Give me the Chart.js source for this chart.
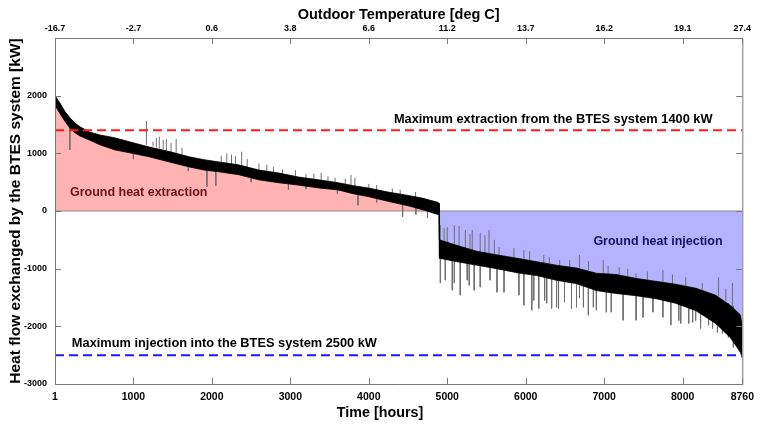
<!DOCTYPE html>
<html>
<head>
<meta charset="utf-8">
<script src="https://cdn.jsdelivr.net/npm/chart.js@4.4.1/dist/chart.umd.min.js"></script>
<style>
    html, body { margin: 0; padding: 0; background: #fff; }
</style>
</head>
<body>
<canvas id="heatChart" width="761" height="427"></canvas>
<script>
// Axis ticks
const xTicks = [1, 1000, 2000, 3000, 4000, 5000, 6000, 7000, 8000, 8760];
const tempLabels = ['-16.7', '-2.7', '0.6', '3.8', '6.6', '11.2', '13.7', '16.2', '19.1', '27.4'];
const yTicks = [-3000, -2000, -1000, 0, 1000, 2000, 3000];

// Heat extraction part (hours 1..4895): top and bottom edge of the noisy band [kW]
const extHours = [1, 60, 130, 190, 250, 320, 440, 570, 760, 950, 1200, 1460, 1710, 1900, 2090, 2340, 2600, 2850, 3100, 3360, 3610, 3800, 3990, 4240, 4500, 4690, 4880, 4895];
const extUpper = [2000, 1880, 1720, 1620, 1530, 1460, 1370, 1320, 1270, 1200, 1110, 1030, 940, 890, 850, 800, 710, 660, 590, 540, 490, 440, 400, 330, 270, 220, 150, 130];
const extLower = [1830, 1700, 1550, 1440, 1360, 1300, 1230, 1150, 1060, 1010, 940, 850, 765, 710, 680, 630, 540, 490, 450, 400, 365, 300, 250, 170, 90, 20, -60, -50];

// Heat injection part (hours 4900..8760)
const injHours = [4900, 5130, 5380, 5630, 5890, 6140, 6390, 6650, 6900, 7150, 7410, 7660, 7910, 8170, 8420, 8610, 8735, 8760];
const injUpper = [-500, -600, -700, -760, -820, -880, -940, -990, -1080, -1100, -1170, -1220, -1270, -1340, -1460, -1640, -1800, -2000];
const injLower = [-820, -880, -940, -1000, -1070, -1120, -1200, -1260, -1380, -1430, -1470, -1520, -1600, -1730, -1950, -2200, -2450, -2550];

// Single-hour peaks sticking out of the band: hour, start (inside band), tip
const spikeHours = [190, 1000, 1166, 1250, 1292, 1330, 1380, 1420, 1480, 1545, 1620, 1700, 1937, 2050, 2120, 2190, 2250, 2300, 2380, 2450, 2500,
    2600, 2700, 2785, 2900, 2976, 3065, 3200, 3200, 3300, 3393, 3480, 3570, 3600, 3700, 3773, 3823, 3862, 4000, 4100, 4100, 4300, 4400,
    4431, 4596, 4600, 4748,
    4912, 4960, 5000, 5090, 5150, 5230, 5290, 5318, 5420, 5480, 5532, 5600, 5660, 5850, 5976, 6050, 6230, 6300, 6432, 6560, 6685, 6800,
    6988, 7050, 7190, 7300, 7406, 7550, 7748, 7870, 8039, 8250, 8457, 8550, 8634,
    4912, 4975, 5064, 5090, 5165, 5254, 5280, 5343, 5420, 5545, 5634, 5723, 5913, 5976, 6077, 6102, 6166, 6241, 6267, 6330, 6393, 6418,
    6494, 6583, 6647, 6685, 6735, 6798, 6862, 6900, 7027, 7090, 7241, 7406, 7495, 7621, 7748, 7849, 7950, 7975, 8077, 8127, 8165, 8228,
    8330, 8380, 8443, 8507, 8583, 8646];
const spikeFrom = [1500, 1100, 1150, 1120, 1100, 1080, 1070, 1050, 1020, 1000, 980, 800, 720, 700, 780, 800, 790, 780, 770, 740, 600,
    680, 650, 650, 620, 520, 580, 520, 500, 520, 500, 480, 460, 420, 450, 420, 410, 350, 330, 310, 250, 260, 230,
    120, 230, 120, 60,
    -600, -620, -620, -640, -660, -680, -690, -700, -720, -730, -740, -760, -780, -820, -840, -860, -900, -910, -950, -980, -1000, -1030,
    -1080, -1090, -1110, -1130, -1170, -1200, -1240, -1260, -1300, -1360, -1480, -1560, -1680,
    -750, -760, -780, -800, -820, -830, -850, -860, -880, -900, -920, -940, -980, -990, -1010, -1010, -1030, -1040, -1050, -1060, -1070, -1080,
    -1100, -1120, -1130, -1140, -1150, -1160, -1170, -1180, -1200, -1210, -1240, -1260, -1280, -1300, -1330, -1350, -1370, -1380, -1400, -1420, -1430, -1450,
    -1480, -1490, -1520, -1560, -1600, -1650];
const spikeTo = [1060, 900, 1560, 1200, 1270, 1290, 1230, 1250, 1180, 1250, 1100, 700, 420, 440, 960, 1000, 980, 950, 1030, 900, 500,
    820, 800, 765, 720, 365, 710, 640, 380, 650, 660, 600, 575, 300, 560, 625, 575, 100, 470, 450, 150, 390, 370,
    -100, 330, -60, -120,
    -245, -300, -280, -245, -260, -330, -400, -330, -380, -420, -330, -500, -625, -645, -680, -700, -765, -800, -850, -850, -765, -870,
    -850, -950, -975, -1000, -1080, -1050, -1025, -1100, -1150, -1250, -1150, -1350, -1250,
    -1250, -1200, -1375, -1250, -1460, -1200, -1290, -1375, -1320, -1200, -1410, -1410, -1460, -1635, -1720, -1550, -1690, -1550, -1600, -1690, -1670, -1690,
    -1580, -1690, -1670, -1510, -1670, -1810, -1670, -1720, -1755, -1755, -1895, -1895, -1845, -1755, -1845, -1980, -1900, -1950, -1950, -1930, -1900, -2035,
    -1980, -2035, -2105, -2120, -2190, -2365];

// Design limits [kW]
const maxExtraction = 1400;
const maxInjection = -2500;

const FONT = "'Liberation Sans', Arial, sans-serif";

function toPoints(xs, ys) {
    return xs.map((x, i) => ({ x: x, y: ys[i] }));
}

const bandHours = extHours.concat(injHours);
const bandUpper = extUpper.concat(injUpper);
const bandLower = extLower.concat(injLower);

const spikePoints = [];
spikeHours.forEach((h, i) => {
    spikePoints.push({ x: h, y: spikeFrom[i] }, { x: h, y: spikeTo[i] }, { x: h, y: null });
});

// Inward tick marks, box and text labels (MATLAB look)
const framePlugin = {
    id: 'frame',
    afterDatasetsDraw(chart) {
        const { ctx, chartArea: a, scales } = chart;
        const x = scales.x;
        const y = scales.y;
        ctx.save();
        ctx.strokeStyle = '#7a7a7a';
        ctx.lineWidth = 1;
        ctx.beginPath();
        ctx.rect(a.left + 0.5, a.top + 0.5, a.right - a.left, a.bottom - a.top);
        xTicks.forEach(v => {
            const px = Math.round(x.getPixelForValue(v)) + 0.5;
            ctx.moveTo(px, a.bottom);
            ctx.lineTo(px, a.bottom - 6);
            ctx.moveTo(px, a.top);
            ctx.lineTo(px, a.top + 6);
        });
        yTicks.forEach(v => {
            const py = Math.round(y.getPixelForValue(v)) + 0.5;
            ctx.moveTo(a.left, py);
            ctx.lineTo(a.left + 6, py);
            ctx.moveTo(a.right, py);
            ctx.lineTo(a.right - 6, py);
        });
        ctx.stroke();

        ctx.textBaseline = 'middle';
        ctx.fillStyle = '#000';
        ctx.font = 'bold 12.8px ' + FONT;
        ctx.textAlign = 'right';
        ctx.fillText('Maximum extraction from the BTES system 1400 kW', x.getPixelForValue(8380), y.getPixelForValue(1580));
        ctx.textAlign = 'left';
        ctx.fillText('Maximum injection into the BTES system 2500 kW', x.getPixelForValue(216), y.getPixelForValue(-2295));
        ctx.font = 'bold 12.5px ' + FONT;
        ctx.fillStyle = '#6e1212';
        ctx.fillText('Ground heat extraction', x.getPixelForValue(191), y.getPixelForValue(313));
        ctx.fillStyle = '#15155e';
        ctx.fillText('Ground heat injection', x.getPixelForValue(6862), y.getPixelForValue(-522));

        // bottom axis title sits a little left of centre in the original
        ctx.fillStyle = '#000';
        ctx.font = 'bold 14.3px ' + FONT;
        ctx.textAlign = 'center';
        ctx.fillText('Time [hours]', a.left + 325, 413);
        ctx.restore();
    }
};

const ctx = document.getElementById('heatChart');

new Chart(ctx, {
    type: 'line',
    data: {
        datasets: [
            {
                label: 'Max extraction',
                data: toPoints([1, 8760], [maxExtraction, maxExtraction]),
                borderColor: '#ff1a1a',
                borderWidth: 2,
                borderDash: [9, 5],
                order: 0
            },
            {
                label: 'Max injection',
                data: toPoints([1, 8760], [maxInjection, maxInjection]),
                borderColor: '#1a1aff',
                borderWidth: 2,
                borderDash: [9, 5],
                order: 0
            },
            {
                label: 'Band upper',
                data: toPoints(bandHours, bandUpper),
                borderColor: '#000',
                borderWidth: 0.8,
                backgroundColor: '#000',
                fill: 3,
                order: 1
            },
            {
                label: 'Band lower',
                data: toPoints(bandHours, bandLower),
                borderColor: '#000',
                borderWidth: 0.8,
                order: 1
            },
            {
                label: 'Peaks',
                data: spikePoints,
                borderColor: '#6f6f6f',
                borderWidth: 1,
                spanGaps: false,
                order: 2
            },
            {
                label: 'Zero',
                data: toPoints([1, 8760], [0, 0]),
                borderColor: '#8a8a8a',
                borderWidth: 1,
                order: 2
            },
            {
                label: 'Extraction area',
                data: toPoints(extHours, extUpper),
                borderWidth: 0,
                backgroundColor: '#ffb3b3',
                fill: 'origin',
                order: 3
            },
            {
                label: 'Injection area',
                data: toPoints(injHours, injUpper),
                borderWidth: 0,
                backgroundColor: '#b3b3ff',
                fill: 'origin',
                order: 3
            }
        ]
    },
    options: {
        responsive: false,
        animation: false,
        layout: { padding: { right: 14 } },
        elements: {
            point: { radius: 0 },
            line: { tension: 0 }
        },
        plugins: {
            legend: { display: false },
            tooltip: { enabled: false }
        },
        scales: {
            x: {
                type: 'linear',
                position: 'bottom',
                min: 1,
                max: 8760,
                afterBuildTicks: s => { s.ticks = xTicks.map(v => ({ value: v })); },
                afterFit: s => { s.height = 43; },
                grid: { display: false, drawTicks: false },
                border: { display: false },
                ticks: {
                    autoSkip: false,
                    maxRotation: 0,
                    padding: 7,
                    color: '#000',
                    font: { family: FONT, size: 10.5, weight: 'bold' },
                    callback: v => String(v)
                }
            },
            xTop: {
                type: 'linear',
                position: 'top',
                min: 1,
                max: 8760,
                afterBuildTicks: s => { s.ticks = xTicks.map(v => ({ value: v })); },
                afterFit: s => { s.height = 38; },
                grid: { display: false, drawTicks: false },
                border: { display: false },
                ticks: {
                    autoSkip: false,
                    maxRotation: 0,
                    padding: 4,
                    color: '#000',
                    font: { family: FONT, size: 9, weight: 'bold' },
                    callback: (v, i) => tempLabels[i]
                },
                title: {
                    display: true,
                    text: 'Outdoor Temperature [deg C]',
                    color: '#000',
                    font: { family: FONT, size: 14.5, weight: 'bold' },
                    padding: { top: 6, bottom: 0 }
                }
            },
            y: {
                min: -3000,
                max: 3000,
                afterBuildTicks: s => { s.ticks = yTicks.map(v => ({ value: v })); },
                afterFit: s => { s.width = 55; },
                grid: { display: false, drawTicks: false },
                border: { display: false },
                ticks: {
                    padding: 8,
                    color: '#000',
                    font: { family: FONT, size: 9, weight: 'bold' },
                    callback: v => (v === 3000 ? '' : String(v))
                },
                title: {
                    display: true,
                    text: 'Heat flow exchanged by the BTES system [kW]',
                    color: '#000',
                    font: { family: FONT, size: 15.5, weight: 'bold' },
                    padding: { top: 6, bottom: 0 }
                }
            }
        }
    },
    plugins: [framePlugin]
});
</script>
</body>
</html>
